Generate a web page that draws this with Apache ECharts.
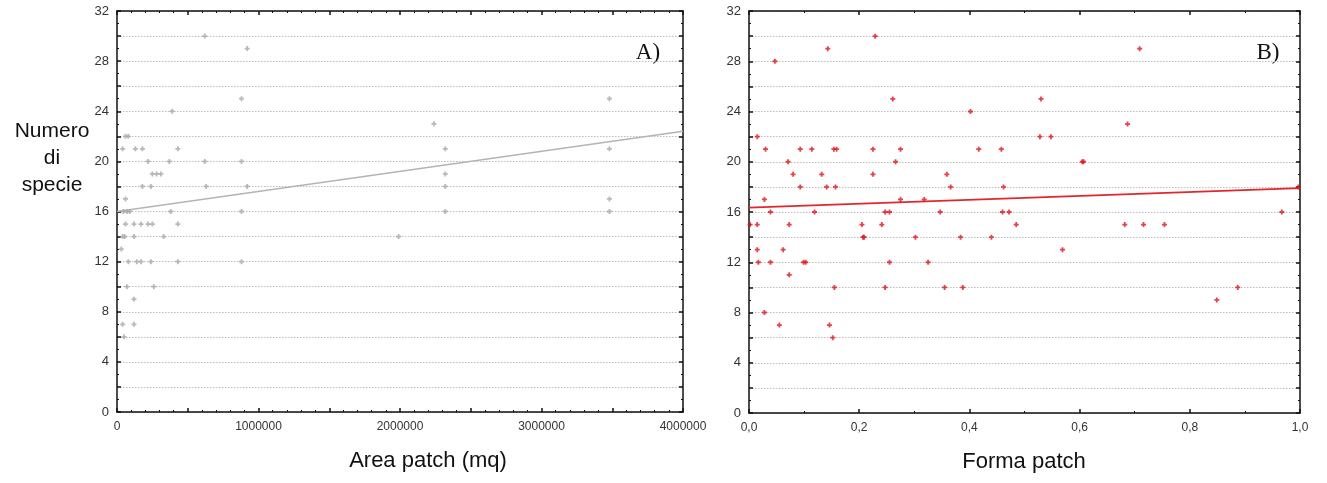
<!DOCTYPE html>
<html>
<head>
<meta charset="utf-8">
<script src="https://cdn.jsdelivr.net/npm/echarts@6/dist/echarts.min.js"></script>
<style>
html,body{margin:0;padding:0;background:#fff;}
#c{width:1327px;height:483px;}
</style>
</head>
<body>
<div id="c"></div>
<script>
// Panel A: Area patch (mq) vs Numero di specie
const areaX = [620000,920000,880000,390000,60000,80000,40000,130000,180000,430000,220000,370000,620000,880000,250000,280000,310000,180000,240000,630000,920000,60000,45000,70000,90000,380000,880000,60000,120000,170000,220000,250000,430000,40000,55000,120000,330000,1990000,30000,80000,140000,170000,240000,430000,880000,70000,260000,120000,40000,120000,50000,2240000,2320000,2320000,2320000,2320000,3480000,3480000,3480000,3480000];
const areaY = [30,29,25,24,22,22,21,21,21,21,20,20,20,20,19,19,19,18,18,18,18,17,16,16,16,16,16,15,15,15,15,15,15,14,14,14,14,14,13,12,12,12,12,12,12,10,10,9,7,7,6,23,21,19,18,16,25,21,17,16];
const fitAX = [0, 4000000];
const fitAY = [16.0, 22.4];

// Panel B: Forma patch vs Numero di specie
const formaX = [0.015,0.03,0.047,0.028,0.039,0.071,0.08,0.093,0.093,0.114,0.119,0.132,0.143,0.141,0.154,0.159,0.157,0.229,0.225,0.225,0.247,0.255,0.261,0.266,0.275,0.275,0.318,0.347,0.359,0.366,0.402,0.417,0.458,0.462,0.46,0.472,0.002,0.015,0.073,0.015,0.017,0.039,0.062,0.073,0.099,0.103,0.028,0.055,0.146,0.152,0.155,0.205,0.207,0.209,0.241,0.255,0.247,0.302,0.325,0.355,0.384,0.388,0.44,0.485,0.53,0.528,0.548,0.569,0.605,0.607,0.687,0.709,0.682,0.716,0.754,0.849,0.887,0.967,0.997];
const formaY = [22,21,28,17,16,20,19,21,18,21,16,19,29,18,21,21,18,30,21,19,16,16,25,20,21,17,17,16,19,18,24,21,21,18,16,16,15,15,15,13,12,12,13,11,12,12,8,7,7,6,10,15,14,14,15,12,10,14,12,10,14,10,14,15,25,22,22,13,20,20,23,29,15,15,15,9,10,16,18];
const fitBX = [0, 1];
const fitBY = [16.35, 17.9];

// Axis settings / labels
const yMin = 0, yMax = 32, yStep = 2;
const areaTicks = [0, 1000000, 2000000, 3000000, 4000000];
const formaTicks = ['0,0','0,2','0,4','0,6','0,8','1,0'];

const pairs = (xs, ys) => xs.map((x, i) => [x, ys[i]]);
const FONT = 'Liberation Sans, Arial, sans-serif';
const plusSym = 'path://M1.6,0H3.4V1.6H5V3.4H3.4V5H1.6V3.4H0V1.6H1.6Z';

function xAx(grid, pos, min, max, interval, minorSplit, labelFn) {
  return {
    type: 'value', gridIndex: grid, position: pos, min: min, max: max, interval: interval,
    axisLine: {show: true, onZero: false, lineStyle: {color: '#111', width: 1.5}},
    axisTick: {show: true, inside: true, length: 4, lineStyle: {color: '#111', width: 1.5}},
    minorTick: {show: true, splitNumber: minorSplit, length: 2, lineStyle: {color: '#111', width: 1}},
    splitLine: {show: false},
    axisLabel: labelFn ? {show: true, formatter: labelFn, fontFamily: FONT, fontSize: 12, color: '#333', margin: 9} : {show: false}
  };
}
function yAx(grid, pos, showLabel, showGrid) {
  return {
    type: 'value', gridIndex: grid, position: pos, min: yMin, max: yMax, interval: yStep,
    axisLine: {show: true, onZero: false, lineStyle: {color: '#111', width: 1.5}},
    axisTick: {show: true, inside: true, length: 4, lineStyle: {color: '#111', width: 1.5}},
    minorTick: {show: true, splitNumber: 2, length: 2, lineStyle: {color: '#111', width: 1}},
    splitLine: {show: showGrid, lineStyle: {color: '#bdbdbd', type: [1.5, 1.5], width: 1}},
    axisLabel: showLabel ? {show: true, formatter: v => (v % 4 === 0 ? String(v) : ''), fontFamily: FONT, fontSize: 13, color: '#333', margin: 8} : {show: false}
  };
}

const chart = echarts.init(document.getElementById('c'), null, {renderer: 'canvas'});
chart.setOption({
  animation: false,
  backgroundColor: '#fff',
  grid: [
    {left: 117, right: 644, top: 11, bottom: 71, show: false},
    {left: 749, right: 27, top: 11, bottom: 70, show: false}
  ],
  xAxis: [
    xAx(0, 'bottom', areaTicks[0], areaTicks[areaTicks.length - 1], 500000, 5, v => (v % 1000000 === 0 ? String(v) : '')),
    xAx(0, 'top', areaTicks[0], areaTicks[areaTicks.length - 1], 500000, 5, null),
    xAx(1, 'bottom', 0, 1, 0.2, 2, v => formaTicks[Math.round(v / 0.2)]),
    xAx(1, 'top', 0, 1, 0.2, 2, null)
  ],
  yAxis: [
    yAx(0, 'left', true, true),
    yAx(0, 'right', false, false),
    yAx(1, 'left', true, true),
    yAx(1, 'right', false, false)
  ],
  series: [
    {type: 'line', xAxisIndex: 0, yAxisIndex: 0, data: pairs(fitAX, fitAY), symbol: 'none',
     lineStyle: {color: '#b4b4b4', width: 1.5}, z: 2},
    {type: 'scatter', xAxisIndex: 0, yAxisIndex: 0, data: pairs(areaX, areaY), symbol: plusSym, symbolSize: 5,
     itemStyle: {color: '#a8a8a8'}, z: 3},
    {type: 'line', xAxisIndex: 2, yAxisIndex: 2, data: pairs(fitBX, fitBY), symbol: 'none',
     lineStyle: {color: '#e3262b', width: 1.8}, z: 2},
    {type: 'scatter', xAxisIndex: 2, yAxisIndex: 2, data: pairs(formaX, formaY), symbol: plusSym, symbolSize: 5,
     itemStyle: {color: '#e0141c'}, z: 3}
  ],
  graphic: [
    {type: 'text', x: 52, y: 118, style: {text: 'Numero\ndi\nspecie', fontFamily: FONT, fontSize: 21, lineHeight: 27, fill: '#111', align: 'center', verticalAlign: 'top'}},
    {type: 'text', x: 428, y: 472, style: {text: 'Area patch (mq)', fontFamily: FONT, fontSize: 22, fill: '#111', align: 'center', verticalAlign: 'bottom'}},
    {type: 'text', x: 1024, y: 473, style: {text: 'Forma patch', fontFamily: FONT, fontSize: 22, fill: '#111', align: 'center', verticalAlign: 'bottom'}},
    {type: 'text', x: 648, y: 64, style: {text: 'A)', fontFamily: 'Liberation Serif, DejaVu Serif, serif', fontSize: 23, fill: '#111', align: 'center', verticalAlign: 'bottom'}},
    {type: 'text', x: 1268, y: 64, style: {text: 'B)', fontFamily: 'Liberation Serif, DejaVu Serif, serif', fontSize: 23, fill: '#111', align: 'center', verticalAlign: 'bottom'}}
  ]
});
</script>
</body>
</html>
